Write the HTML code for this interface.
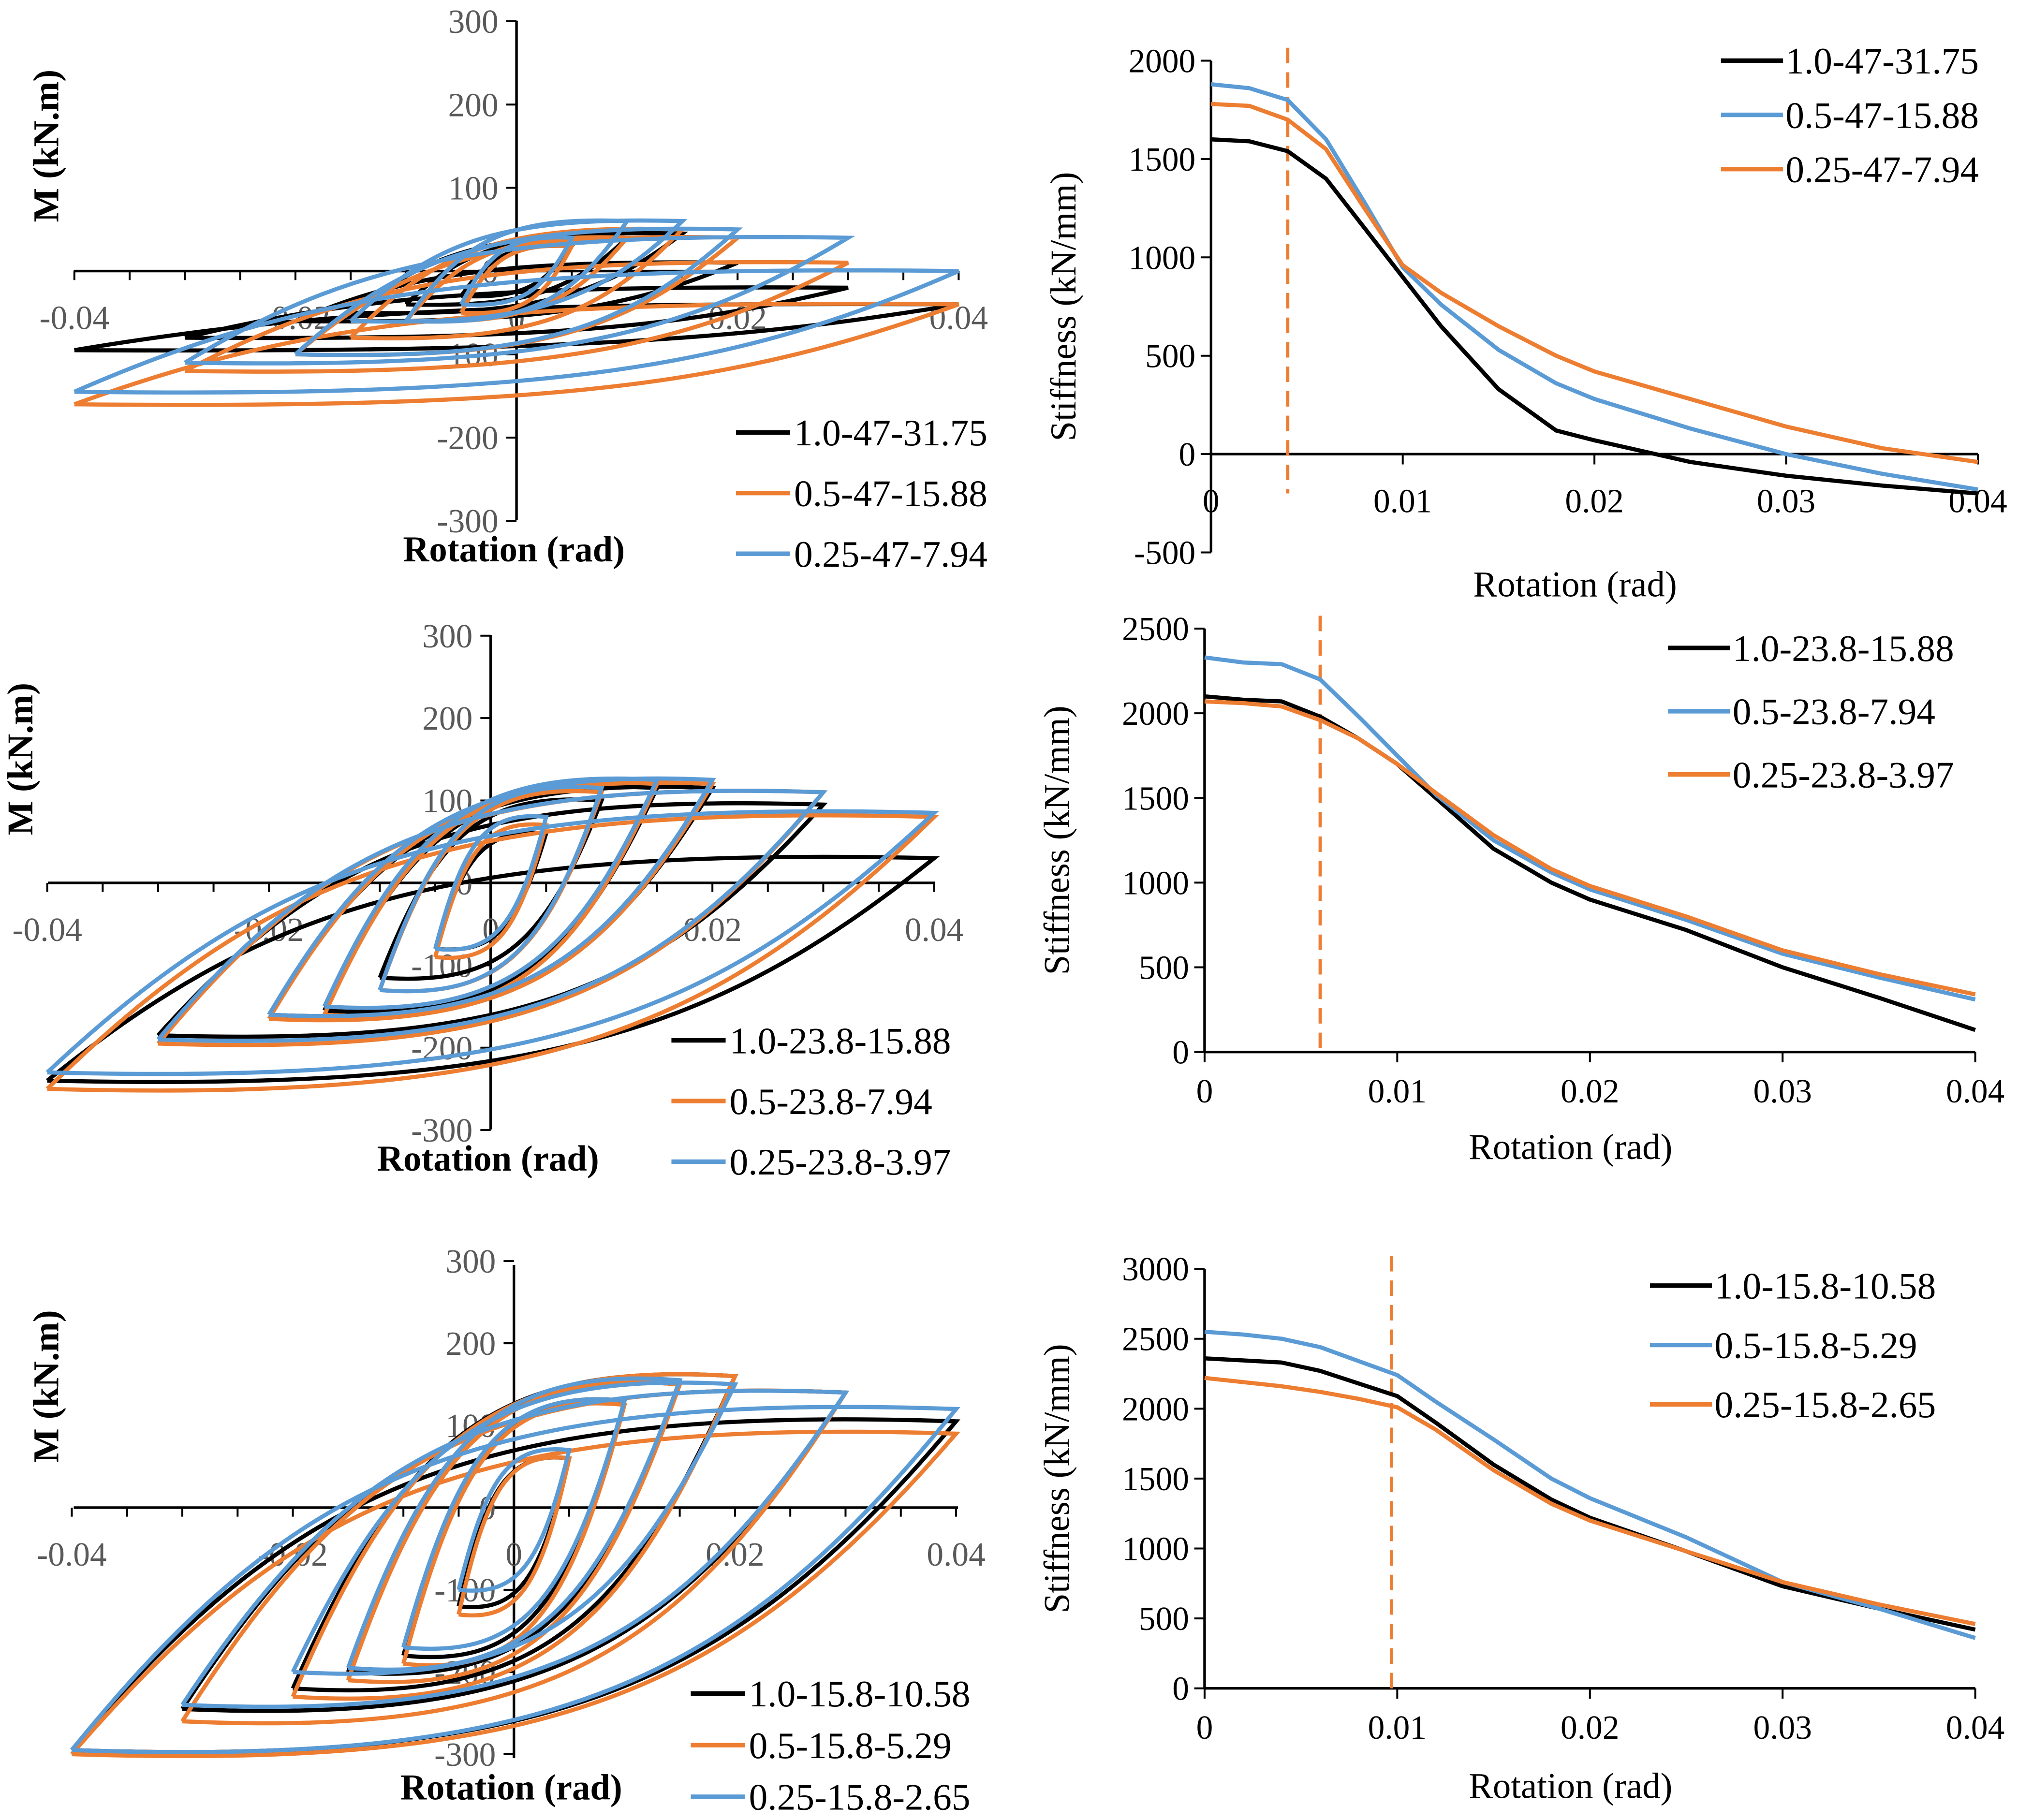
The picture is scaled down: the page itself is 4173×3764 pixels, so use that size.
<!DOCTYPE html>
<html><head><meta charset="utf-8"><style>
html,body{margin:0;padding:0;background:#fff}
svg{display:block;font-family:"Liberation Serif",serif}
</style></head><body>
<svg id="c" width="4173" height="3764" viewBox="0 0 1563 1410" xmlns="http://www.w3.org/2000/svg"></svg>
<script>
const amps=[0.005,0.01,0.015,0.02,0.03,0.04];
const h1Black=[30,40,45,10,-20,-40], h1BlackN=[-30,-40,-50,-60,-80,-95];
const h1Orange=[30,40,50,40,10,-40], h1OrangeN=[-50,-60,-80,-100,-120,-160];
const h1Blue=[40,60,60,50,40,0], h1BlueN=[-40,-60,-60,-100,-110,-145];
const h2Black=[60,100,115,115,95,30], h2BlackN=[-80,-115,-155,-160,-185,-240];
const h2Orange=[70,110,120,120,110,80], h2OrangeN=[-90,-130,-160,-165,-195,-250];
const h2Blue=[80,115,125,125,110,85], h2BlueN=[-80,-130,-150,-160,-190,-230];
const h3Black=[60,130,150,160,140,105], h3BlackN=[-120,-180,-200,-220,-245,-295];
const h3Orange=[60,125,150,160,140,90], h3OrangeN=[-130,-190,-210,-230,-260,-300];
const h3Blue=[70,130,155,150,140,120], h3BlueN=[-100,-170,-195,-200,-240,-295];
const sX=[0,0.002,0.004,0.006,0.008,0.01,0.012,0.015,0.018,0.02,0.025,0.03,0.035,0.04];
const s1Black=[1600,1590,1540,1400,1150,900,650,330,120,70,-40,-110,-160,-200];
const s1Blue=[1880,1860,1800,1600,1280,950,760,530,360,280,130,0,-100,-180];
const s1Orange=[1780,1770,1700,1550,1250,960,820,650,500,420,280,140,30,-40];
const s2Black=[2100,2080,2070,1980,1850,1700,1500,1200,1000,900,720,500,320,130];
const s2Blue=[2330,2300,2290,2200,1980,1750,1520,1250,1060,960,780,580,440,310];
const s2Orange=[2070,2060,2040,1960,1850,1700,1530,1280,1080,980,800,600,460,340];
const s3Black=[2360,2345,2330,2270,2180,2090,1900,1600,1350,1220,980,730,570,420];
const s3Blue=[2550,2530,2500,2440,2340,2240,2050,1780,1500,1360,1080,760,570,360];
const s3Orange=[2220,2190,2160,2120,2070,2010,1850,1560,1320,1200,980,760,600,460];
const C={k:"#000",o:"#ED7D31",b:"#5B9BD5"};
const svg=document.getElementById('c');
function el(t,a,txt){const e=document.createElementNS("http://www.w3.org/2000/svg",t);for(const k in a)e.setAttribute(k,a[k]);if(txt!==undefined)e.textContent=txt;svg.appendChild(e);return e;}

function hyst(id,xl,xr,x0,yt,yb,y0,series,labels,lx,ly,lsp){
  const X=v=>x0+v*(xr-xl)/0.08, Y=v=>y0-v*(yb-yt)/600;
  let ax=el('line',{x1:xl,y1:y0,x2:xr,y2:y0,stroke:'#000','stroke-width':2});
  
  let ay=el('line',{x1:x0,y1:yt,x2:x0,y2:yb,stroke:'#000','stroke-width':2});
  
  for(let i=-8;i<=8;i++){let x=X(i*0.005);el('line',{x1:x,y1:y0,x2:x,y2:y0+7,stroke:'#000','stroke-width':1.5});}
  for(let v=-300;v<=300;v+=100){el('line',{x1:x0-8,y1:Y(v),x2:x0,y2:Y(v),stroke:'#000','stroke-width':1.5});
    let t=el('text',{x:x0-14,y:Y(v)+9,'text-anchor':'end','font-size':26,fill:'#595959'},v);
    }
  [-0.04,-0.02,0,0.02,0.04].forEach(v=>{let t=el('text',{x:X(v),y:y0+45,'text-anchor':'middle','font-size':26,fill:'#595959'},v===0?'0':v.toFixed(2));
    });
  series.forEach(([p,n,c])=>{
    let d='';
    amps.forEach((a,i)=>{const P=p[i],N=n[i];
      d+=`M${X(-a)},${Y(N)} C${X(-a+0.5*a)},${Y(N+0.8*(P-N))} ${X(-a+0.9*a)},${Y(P+0.05*(P-N))} ${X(a)},${Y(P)} `+
         `C${X(a-0.5*a)},${Y(P-0.8*(P-N))} ${X(a-0.9*a)},${Y(N-0.05*(P-N))} ${X(-a)},${Y(N)} `;});
    let pth=el('path',{d,fill:'none',stroke:C[c],'stroke-width':3.2});
    
  });
  let yt2=el('text',{transform:`translate(${xl-12},${(yt+y0)/2}) rotate(-90)`,'text-anchor':'middle','font-size':28,'font-weight':'bold'},'M (kN.m)');
  
  let xt=el('text',{x:x0-2,y:yb+32,'text-anchor':'middle','font-size':28,'font-weight':'bold'},'Rotation (rad)');
  
  labels.forEach(([lab,c],i)=>{const yy=ly+i*lsp;
    let l=el('line',{x1:lx,y1:yy,x2:lx+42,y2:yy,stroke:C[c],'stroke-width':3.5});
    
    let t=el('text',{x:lx+45,y:yy+10,'font-size':29},lab);
    });
}
function stiff(id,x0,x1,yTop,yBot,vmax,vmin,step,series,labels,lx,ly,lsp,dash,titleY){
  const X=v=>x0+v*(x1-x0)/0.04, Y=v=>yBot-(v-vmin)*(yBot-yTop)/(vmax-vmin);
  let ay=el('line',{x1:x0,y1:yTop,x2:x0,y2:yBot,stroke:'#000','stroke-width':2});
  
  let ax=el('line',{x1:x0,y1:Y(0),x2:x1,y2:Y(0),stroke:'#000','stroke-width':2});
  
  for(let v=vmin;v<=vmax;v+=step){el('line',{x1:x0-8,y1:Y(v),x2:x0,y2:Y(v),stroke:'#000','stroke-width':1.5});
    let t=el('text',{x:x0-12,y:Y(v)+9,'text-anchor':'end','font-size':26},v);
    }
  [0,0.01,0.02,0.03,0.04].forEach(v=>{el('line',{x1:X(v),y1:Y(0),x2:X(v),y2:Y(0)+8,stroke:'#000','stroke-width':1.5});
    let t=el('text',{x:X(v),y:(vmin<0?Y(0)+45:yBot+39),'text-anchor':'middle','font-size':26},v===0?'0':String(v));
    });
  let dl=el('line',{x1:X(dash),y1:yTop-10,x2:X(dash),y2:Y(vmin<0?-200:0),stroke:C.o,'stroke-width':2.5,'stroke-dasharray':'12,7'});
  
  series.forEach(([arr,c])=>{let d=arr.map((v,i)=>(i?'L':'M')+X(sX[i])+','+Y(v)).join(' ');
    let p=el('path',{d,fill:'none',stroke:C[c],'stroke-width':3.2,'stroke-linejoin':'round'});
    });
  let yt=el('text',{transform:`translate(${x0-105},${(yTop+yBot)/2}) rotate(-90)`,'text-anchor':'middle','font-size':28},'Stiffness (kN/mm)');
  
  let xt=el('text',{x:(x0+x1)/2-15,y:titleY,'text-anchor':'middle','font-size':28},'Rotation (rad)');
  
  labels.forEach(([lab,c],i)=>{const yy=ly+i*lsp;
    let l=el('line',{x1:lx,y1:yy,x2:lx+48,y2:yy,stroke:C[c],'stroke-width':3.5});
    
    let t=el('text',{x:lx+50,y:yy+10,'font-size':29},lab);
    });
}
hyst('p1',57,742,400,16,403,210,[[h1Black,h1BlackN,'k'],[h1Orange,h1OrangeN,'o'],[h1Blue,h1BlueN,'b']],
 [['1.0-47-31.75','k'],['0.5-47-15.88','o'],['0.25-47-7.94','b']],570,335,47);
hyst('p2',37,724,380,492,875,684,[[h2Black,h2BlackN,'k'],[h2Orange,h2OrangeN,'o'],[h2Blue,h2BlueN,'b']],
 [['1.0-23.8-15.88','k'],['0.5-23.8-7.94','o'],['0.25-23.8-3.97','b']],520,806,47);
hyst('p3',57,742,398,980,1362,1168,[[h3Black,h3BlackN,'k'],[h3Orange,h3OrangeN,'o'],[h3Blue,h3BlueN,'b']],
 [['1.0-15.8-10.58','k'],['0.5-15.8-5.29','o'],['0.25-15.8-2.65','b']],535,1312,40);
stiff('s1',938,1532,47,428,2000,-500,500,[[s1Black,'k'],[s1Blue,'b'],[s1Orange,'o']],
 [['1.0-47-31.75','k'],['0.5-47-15.88','b'],['0.25-47-7.94','o']],1333,47,42,0.004,462);
stiff('s2',933,1530,487,815,2500,0,500,[[s2Black,'k'],[s2Blue,'b'],[s2Orange,'o']],
 [['1.0-23.8-15.88','k'],['0.5-23.8-7.94','b'],['0.25-23.8-3.97','o']],1292,502,49,0.006,898);
stiff('s3',933,1530,983,1308,3000,0,500,[[s3Black,'k'],[s3Blue,'b'],[s3Orange,'o']],
 [['1.0-15.8-10.58','k'],['0.5-15.8-5.29','b'],['0.25-15.8-2.65','o']],1278,996,46,0.0097,1393);
</script>
</body></html>
